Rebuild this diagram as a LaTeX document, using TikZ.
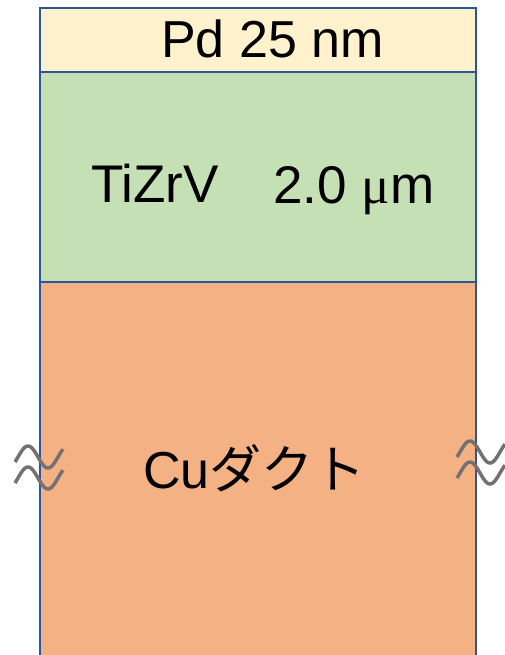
\documentclass[tikz,border=0pt]{standalone}
\usepackage{fontspec}
\setmainfont{Liberation Sans}
\newfontfamily\jpfont{Noto Sans CJK JP}
\newfontfamily\griego{Liberation Serif}
\definecolor{borde}{HTML}{2F5597}
\definecolor{capaPd}{HTML}{FFF2CC}
\definecolor{capaTi}{HTML}{C5E0B4}
\definecolor{capaCu}{HTML}{F4B183}
\definecolor{gris}{HTML}{767171}
\tikzset{
  capa/.style={draw=borde, line width=2.5pt},
  texto/.style={anchor=base west, inner sep=0pt, text=black},
  onda/.style={gris, line width=3.5pt, smooth, domain=0:48, samples=40, variable=\t}
}
\begin{document}
\begin{tikzpicture}[x=1pt,y=-1pt]
                \clip (0,0) rectangle (505,655);
                \fill[white] (0,0) rectangle (505,655);

                % Capas
                \draw[capa, fill=capaCu] (40,282) rectangle (476,670);
                \draw[capa, fill=capaTi] (40,72) rectangle (476,282);
                \draw[capa, fill=capaPd] (40,8) rectangle (476,72);

                % Textos
                \node[texto, font=\fontsize{52}{52}\selectfont] (pd) at (161,58) {Pd 25 nm};
                \node[texto, font=\fontsize{53}{53}\selectfont] (tizrv) at (91,202) {TiZrV};
                \node[texto, font=\fontsize{53}{53}\selectfont] (espesor) at (273,203) {2.0 {\griego μ}m};
                \node[texto, font=\fontsize{52}{52}\selectfont] (cu) at (143,488) {Cu{\jpfont ダクト}};

                % Ondas de corte
                \foreach \x/\y in {15/457, 15/478, 457/452, 457/473}
                  \draw[onda] plot ({\x+\t}, {\y-11*sin(9*(\t-3))});
\end{tikzpicture}
\end{document}
